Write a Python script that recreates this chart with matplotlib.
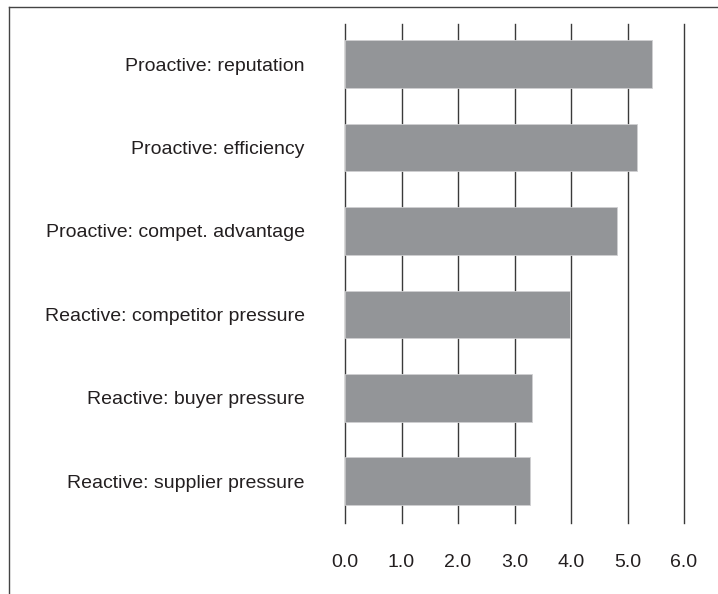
import matplotlib.pyplot as plt
from matplotlib.lines import Line2D

categories = [
    'Proactive: reputation',
    'Proactive: efficiency',
    'Proactive: compet. advantage',
    'Reactive: competitor pressure',
    'Reactive: buyer pressure',
    'Reactive: supplier pressure',
]
values = [5.44, 5.17, 4.82, 3.99, 3.31, 3.28]
x_ticks = [0, 1, 2, 3, 4, 5, 6]
x_tick_labels = ['0.0', '1.0', '2.0', '3.0', '4.0', '5.0', '6.0']

plt.rcParams['font.family'] = ['Liberation Sans Narrow', 'Liberation Sans', 'DejaVu Sans']

fig = plt.figure(figsize=(7.18, 5.94), dpi=100)
ax = fig.add_axes([345 / 718, 1 - 523 / 594, (684 - 345) / 718, (523 - 24) / 594])

ypos = list(range(len(categories)))
ax.barh(ypos, values, height=0.57, color='#939598', edgecolor='#d0d0d2', linewidth=0.6, zorder=3)

ax.set_xlim(0, 6)
ax.set_ylim(5.5, -0.48)
ax.set_xticks(x_ticks)
ax.set_xticklabels(x_tick_labels, fontsize=14, color='#231f20')
ax.set_yticks(ypos)
ax.set_yticklabels(categories, fontsize=14, color='#231f20')
ax.tick_params(axis='x', length=0, pad=22)
ax.tick_params(axis='y', length=0, pad=29)

for s in ax.spines.values():
    s.set_visible(False)
ax.grid(axis='x', color='#3a3a3a', linewidth=1.0, zorder=0)
for gl in ax.get_xgridlines():
    gl.set_clip_on(False)

# outer frame: top and left edges only
fig.add_artist(Line2D([9 / 718, 1], [1 - 7 / 594, 1 - 7 / 594], color='#444444', linewidth=1.0))
fig.add_artist(Line2D([9 / 718, 9 / 718], [0, 1 - 7 / 594], color='#444444', linewidth=1.0))

fig.savefig('out.png', dpi=100)
